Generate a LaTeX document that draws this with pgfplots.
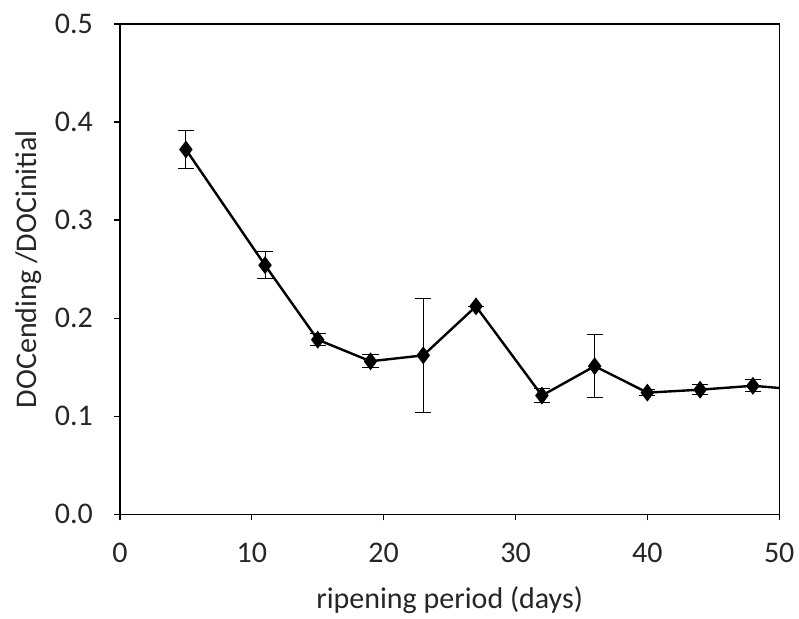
\documentclass[border=0pt]{standalone}
\usepackage{pgfplots}
\pgfplotsset{compat=1.18}
\usepackage{fontspec}
\setmainfont{Carlito}
\begin{document}
\begin{tikzpicture}
\begin{axis}[
  scale only axis,
  width=329.5pt, height=245pt,
  xmin=0, xmax=50, ymin=0, ymax=0.5,
  xtick={0,10,20,30,40,50},
  ytick={0,0.1,0.2,0.3,0.4,0.5},
  yticklabel style={xshift=-7pt, /pgf/number format/.cd, fixed, fixed zerofill, precision=1},
  /pgf/number format/assume math mode=true,
  tick align=outside,
  xtick pos=bottom, ytick pos=left,
  major tick length=3pt,
  axis line style={line width=0.6pt},
  tick style={line width=0.6pt, black},
  ticklabel style={font=\fontsize{15}{18}\selectfont, text=black!85},
  xticklabel style={yshift=-8pt},
  label style={font=\fontsize{15}{18}\selectfont, text=black!85},
  xlabel={ripening period (days)},
  ylabel={DOCending /DOCinitial},
  xlabel style={yshift=-5pt},
  ylabel style={yshift=0pt},
  clip=true,
]
\addplot[black, line width=1.2pt, mark=diamond*, mark size=3.5pt,
  mark options={solid, fill=black},
  error bars/.cd, y dir=both, y explicit,
  error bar style={line width=0.5pt, black},
  error mark options={rotate=90, mark size=4pt, line width=0.5pt}]
  table[x=x, y=y, y error=e] {
x y e
5 0.372 0.019
11 0.254 0.014
15 0.178 0.006
19 0.156 0.0068
23 0.162 0.058
27 0.212 0.0
32 0.121 0.0075
36 0.151 0.032
40 0.124 0.003
44 0.127 0.005
48 0.131 0.006
52 0.1265 0.0
};
\coordinate (bl) at (rel axis cs:-0.182,-0.212);
\coordinate (tr) at (rel axis cs:1.030,1.049);
\end{axis}
\pgfresetboundingbox
\path (bl) rectangle (tr);
\end{tikzpicture}
\end{document}
